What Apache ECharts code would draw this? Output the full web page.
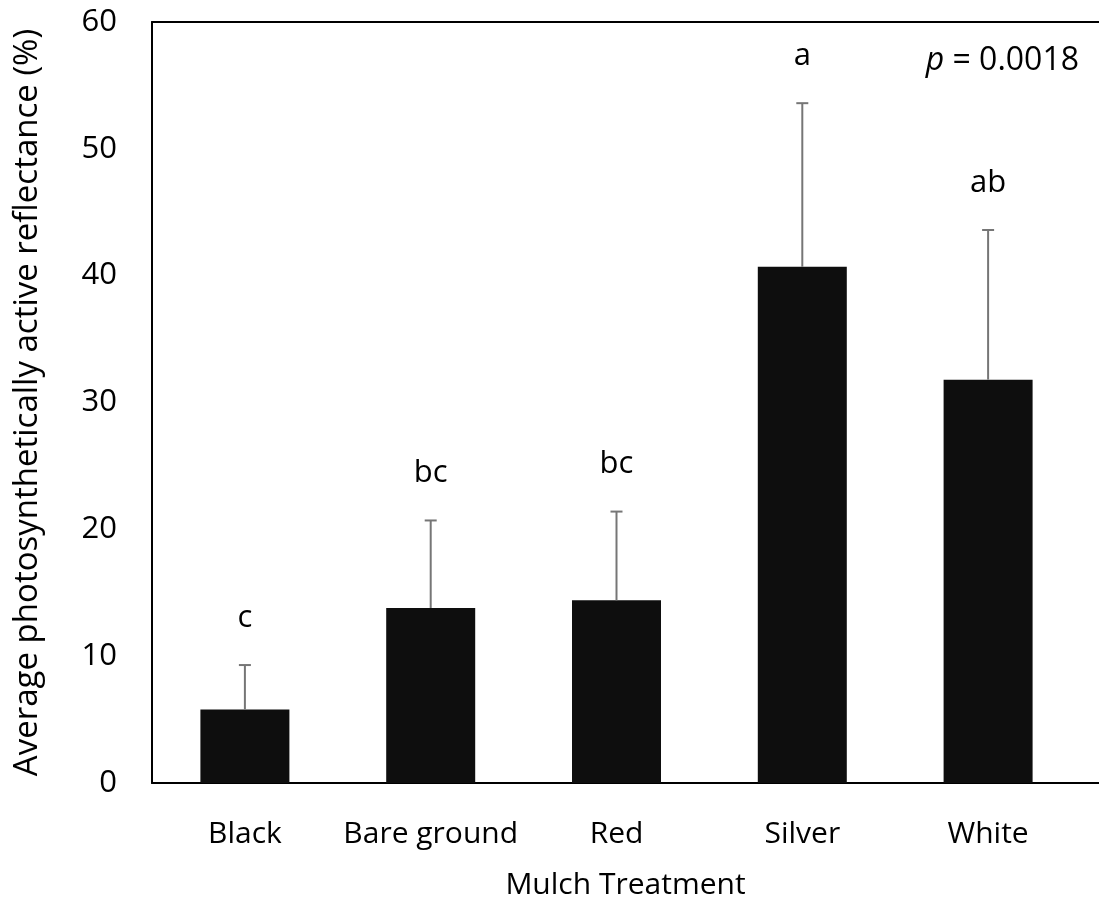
<!DOCTYPE html>
<html>
<head>
<meta charset="utf-8">
<script src="https://cdn.jsdelivr.net/npm/echarts@6/dist/echarts.min.js"></script>
<style>html,body{margin:0;padding:0;background:#fff}#c{width:1099px;height:907px}</style>
</head>
<body>
<div id="c"></div>
<script>
const categories = ['Black', 'Bare ground', 'Red', 'Silver', 'White'];
const means = [5.8, 13.8, 14.4, 40.7, 31.8];
const errors = [3.5, 6.9, 7.0, 12.9, 11.8];
const letters = ['c', 'bc', 'bc', 'a', 'ab'];
const yTicks = { min: 0, max: 60, interval: 10 };
const pText = '= 0.0018';

const FONT = 'Open Sans';
const chart = echarts.init(document.getElementById('c'), null, { renderer: 'canvas' });

const errData = categories.map((c, i) => [i, means[i], means[i] + errors[i], letters[i]]);

chart.setOption({
  animation: false,
  backgroundColor: '#fff',
  textStyle: { fontFamily: FONT, color: '#000' },
  title: {
    right: 15, top: 40,
    text: '{i|p} ' + pText,
    textStyle: {
      fontFamily: FONT, fontSize: 32, fontWeight: 'normal', color: '#000',
      rich: { i: { fontFamily: FONT, fontSize: 32, fontStyle: 'italic', color: '#000' } }
    }
  },
  grid: [
    { left: 152, right: 0, top: 22, bottom: 124, outerBoundsMode: 'none', containLabel: false },
    { left: 152, width: 929, top: 22, bottom: 124, outerBoundsMode: 'none', containLabel: false }
  ],
  xAxis: [
    {
      gridIndex: 0, type: 'value', min: 0, max: 1, position: 'bottom',
      name: 'Mulch Treatment', nameLocation: 'middle', nameGap: 87,
      nameTextStyle: { fontFamily: FONT, fontSize: 30, color: '#000' },
      axisLine: { show: true, lineStyle: { color: '#000', width: 2 } },
      axisTick: { show: false }, axisLabel: { show: false }, splitLine: { show: false }
    },
    {
      gridIndex: 0, type: 'value', min: 0, max: 1, position: 'top',
      axisLine: { show: true, lineStyle: { color: '#000', width: 2 } },
      axisTick: { show: false }, axisLabel: { show: false }, splitLine: { show: false }
    },
    {
      gridIndex: 1, type: 'category', data: categories,
      axisLine: { show: false }, axisTick: { show: false },
      axisLabel: { fontFamily: FONT, fontSize: 30, color: '#000', margin: 36, interval: 0 }
    }
  ],
  yAxis: [
    {
      gridIndex: 0, type: 'value', min: yTicks.min, max: yTicks.max, interval: yTicks.interval,
      name: 'Average photosynthetically active reflectance (%)', nameLocation: 'middle', nameGap: 108,
      nameTextStyle: { fontFamily: FONT, fontSize: 33, color: '#000' },
      axisLine: { show: true, lineStyle: { color: '#000', width: 2 } },
      axisTick: { show: false }, splitLine: { show: false },
      axisLabel: { fontFamily: FONT, fontSize: 31, color: '#000', margin: 35 }
    },
    {
      gridIndex: 1, type: 'value', min: yTicks.min, max: yTicks.max, interval: yTicks.interval,
      show: false, splitLine: { show: false }
    }
  ],
  series: [
    {
      type: 'bar', xAxisIndex: 2, yAxisIndex: 1, data: means, barWidth: 89,
      itemStyle: { color: '#0e0e0e' }, z: 2
    },
    {
      type: 'custom', xAxisIndex: 2, yAxisIndex: 1, data: errData, z: 3,
      renderItem: function (params, api) {
        const i = api.value(0);
        const lo = api.coord([i, api.value(1)]);
        const hi = api.coord([i, api.value(2)]);
        const cap = 6;
        const style = { stroke: '#767676', lineWidth: 2 };
        return {
          type: 'group',
          children: [
            { type: 'line', shape: { x1: lo[0], y1: lo[1], x2: hi[0], y2: hi[1] }, style: style },
            { type: 'line', shape: { x1: hi[0] - cap, y1: hi[1], x2: hi[0] + cap, y2: hi[1] }, style: style },
            {
              type: 'text', x: hi[0], y: hi[1] - 47,
              style: { text: letters[i], fontFamily: FONT, fontSize: 31, fill: '#000', align: 'center', verticalAlign: 'middle' }
            }
          ]
        };
      }
    }
  ]
});
</script>
</body>
</html>
